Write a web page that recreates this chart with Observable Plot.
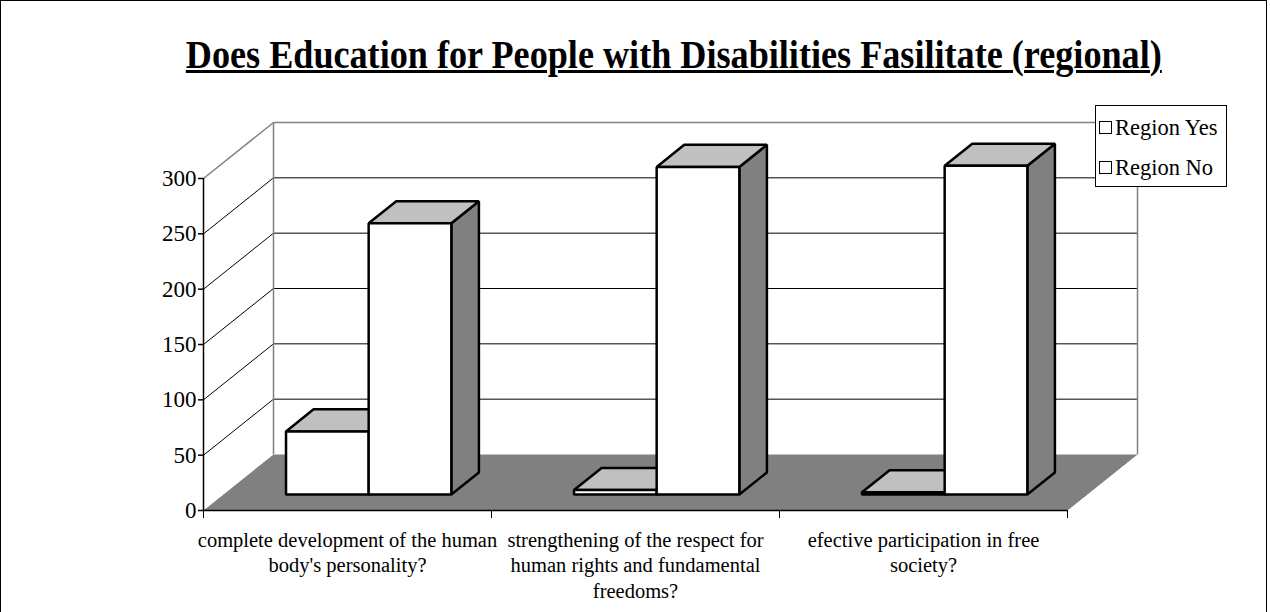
<!DOCTYPE html>
<html>
<head>
<meta charset="utf-8">
<script src="https://cdn.jsdelivr.net/npm/d3@7"></script>
<script src="https://cdn.jsdelivr.net/npm/@observablehq/plot@0.6"></script>
<style>
  html, body { margin: 0; padding: 0; background: #fff; }
  #wrap { position: relative; width: 1270px; height: 612px; overflow: hidden; font-family: "Liberation Serif", "Times New Roman", serif; }
  #frame { position: absolute; left: 0; top: 0; width: 1267px; height: 640px; border: 1px solid #000; box-sizing: border-box; pointer-events: none; }
  #titleOuter { position: absolute; left: 74px; width: 1200px; top: 35px; text-align: center; }
  #title { display: inline-block; font-weight: bold; font-size: 40px; line-height: 40px; text-decoration: underline; text-decoration-thickness: 3px; text-underline-offset: 2px; transform-origin: center; white-space: nowrap; }
  #legend { position: absolute; left: 1095px; top: 105px; width: 132px; height: 82px; border: 1px solid #000; box-sizing: border-box; background: #fff; font-size: 22.5px; }
  .item { position: absolute; left: 3px; height: 26px; line-height: 26px; white-space: nowrap; }
  .sw { display: inline-block; width: 11px; height: 11px; border: 1.5px solid #000; background: #fff; vertical-align: middle; margin-right: 3px; position: relative; top: -2px; }
  #chart { position: absolute; left: 0; top: 0; }
</style>
</head>
<body>
<div id="wrap">
  <div id="chart"></div>
  <div id="titleOuter"><span id="title">Does Education for People with Disabilities Fasilitate (regional)</span></div>
  <div id="legend"></div>
  <div id="frame"></div>
</div>
<script>
// ---- data ----
const categories = [
  "complete development of the human\nbody's personality?",
  "strengthening of the respect for\nhuman rights and fundamental\nfreedoms?",
  "efective participation in free\nsociety?"
];
const seriesNames = ["Region Yes", "Region No"];
const regionYes = [57, 4, 2];
const regionNo = [245, 296, 297];
const yTicks = [0, 50, 100, 150, 200, 250, 300];

// ---- layout ----
const W = 1270, H = 612;
const mL = 203, mR = 203, mT = 178, mB = 102;
const depthPx = [70, -56];           // full depth offset in pixels
const xUnit = categories.length / (W - mL - mR);
const yUnit = 300 / (H - mT - mB);
const DX = depthPx[0] * xUnit, DY = -depthPx[1] * yUnit;
const P = (x, y, z) => ({x: x + z * DX, y: y + z * DY});

const z0 = 0.286, z1 = 0.68, bw = 0.287, cOff = 0.504;

function poly(id, pts) { return pts.map((p, i) => ({id, i, ...P(...p)})); }

const fronts = [], tops = [], sides = [];
const seriesVals = [regionYes, regionNo];
categories.forEach((c, i) => {
  seriesVals.forEach((vals, s) => {
    const v = vals[i];
    const xl = i + cOff - bw + s * bw, xr = xl + bw;
    const id = `${i}-${s}`;
    sides.push(...poly(id, [[xr,0,z0],[xr,0,z1],[xr,v,z1],[xr,v,z0]]));
    tops.push(...poly(id, [[xl,v,z0],[xr,v,z0],[xr,v,z1],[xl,v,z1]]));
    fronts.push(...poly(id, [[xl,0,z0],[xr,0,z0],[xr,v,z0],[xl,v,z0]]));
  });
});

const floor = poly("floor", [[0,0,0],[3,0,0],[3,0,1],[0,0,1]]);
const gridVals = yTicks.filter(v => v > 0 && v < 300);
const backLines = gridVals.map(v => { const a = P(0,v,1), b = P(3,v,1); return {x1:a.x,y1:a.y,x2:b.x,y2:b.y}; });
const sideLines = gridVals.map(v => { const a = P(0,v,0), b = P(0,v,1); return {x1:a.x,y1:a.y,x2:b.x,y2:b.y}; });
const wallEdges = [
  [P(0,300,0), P(0,300,1)],
  [P(0,300,1), P(3,300,1)],
  [P(0,0,1), P(0,300,1)],
  [P(3,0,1), P(3,300,1)]
].map(([a,b]) => ({x1:a.x,y1:a.y,x2:b.x,y2:b.y}));

const labels = categories.map((c, i) => ({x: i + 0.5, y: 0, text: c}));

const barStyle = {x: "x", y: "y", z: "id", curve: "linear-closed", stroke: "#000", strokeWidth: 2.5, strokeLinejoin: "miter"};
const serif = "'Liberation Serif', 'Times New Roman', serif";

const chart = Plot.plot({
  width: W, height: H,
  marginLeft: mL, marginRight: mR, marginTop: mT, marginBottom: mB,
  style: {fontFamily: serif, fontSize: "20px", color: "#000", background: "transparent", overflow: "visible"},
  x: {type: "linear", domain: [0, categories.length], axis: null},
  y: {domain: [0, 300], axis: null},
  marks: [
    Plot.link(backLines, {x1: "x1", y1: "y1", x2: "x2", y2: "y2", stroke: "#000", strokeWidth: 1}),
    Plot.link(sideLines, {x1: "x1", y1: "y1", x2: "x2", y2: "y2", stroke: "#000", strokeWidth: 1}),
    Plot.link(wallEdges, {x1: "x1", y1: "y1", x2: "x2", y2: "y2", stroke: "#808080", strokeWidth: 1.5}),
    Plot.line(floor, {x: "x", y: "y", z: "id", curve: "linear-closed", fill: "#808080", stroke: "none"}),
    Plot.line(sides, {...barStyle, fill: "#808080"}),
    Plot.line(tops, {...barStyle, fill: "#c0c0c0"}),
    Plot.line(fronts, {...barStyle, fill: "#ffffff"}),
    Plot.ruleX([0], {stroke: "#000", strokeWidth: 1.5}),
    Plot.ruleY([0], {stroke: "#000", strokeWidth: 1.5}),
    Plot.axisY({ticks: yTicks, tickSize: 5, tickPadding: 2, fontSize: 23, label: null, stroke: "#000", strokeWidth: 1.5}),
    Plot.axisX({ticks: [0, 1, 2, 3], tickSize: 8, tickFormat: () => "", label: null, stroke: "#000", strokeWidth: 1}),
    Plot.text(labels, {x: "x", y: "y", text: "text", lineAnchor: "top", dy: 19, lineHeight: 1.225, fontSize: 20.5, fill: "#000"})
  ]
});
chart.querySelectorAll("text, g").forEach(el => {
  el.style.fontFamily = "\"Liberation Serif\", \"Times New Roman\", serif";
});
document.getElementById("chart").appendChild(chart);

// title width fit
const t = document.getElementById("title");
const w = t.getBoundingClientRect().width;
t.style.transform = `scaleX(${976 / w})`;

// legend
const lg = document.getElementById("legend");
seriesNames.forEach((n, i) => {
  const d = document.createElement("div");
  d.className = "item";
  d.style.top = (9 + i * 40) + "px";
  const sw = document.createElement("span"); sw.className = "sw";
  d.appendChild(sw);
  d.appendChild(document.createTextNode(n));
  lg.appendChild(d);
});
</script>
</body>
</html>
